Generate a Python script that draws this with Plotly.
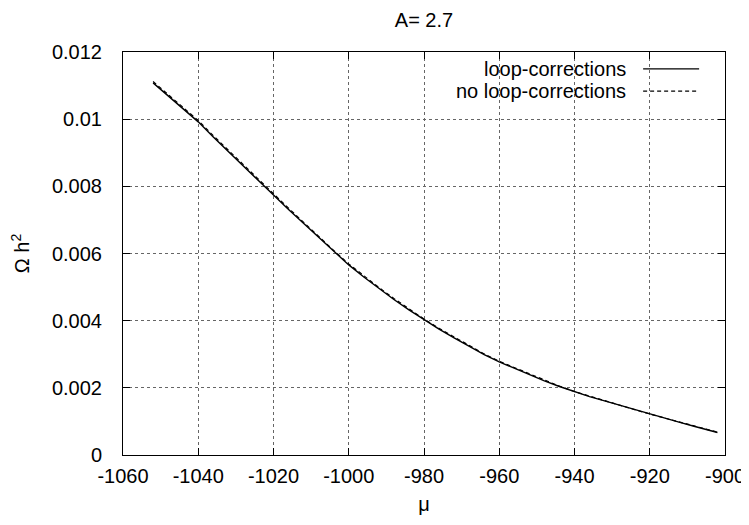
import plotly.graph_objects as go

# values
mu = [-1052, -1048, -1044, -1040, -1036, -1032, -1028, -1024, -1020, -1016,
      -1012, -1008, -1004, -1000, -996, -992, -988, -984, -980, -976,
      -972, -968, -964, -960, -956, -952, -948, -944, -940, -936,
      -932, -928, -924, -920, -916, -912, -908, -904, -902]

omega_loop = [0.01108, 0.01070, 0.01031, 0.00992, 0.00947, 0.00903, 0.00860, 0.00817, 0.00774, 0.00731,
              0.00689, 0.00647, 0.00606, 0.00566, 0.00530, 0.00496, 0.00463, 0.00432, 0.00403, 0.00375,
              0.00349, 0.00324, 0.00299, 0.00277, 0.00258, 0.00239, 0.00221, 0.00204, 0.00188, 0.00174,
              0.00161, 0.00148, 0.00134, 0.00121, 0.00109, 0.00097, 0.00085, 0.00073, 0.00067]

omega_noloop = [0.01112, 0.01074, 0.01035, 0.00996, 0.00951, 0.00907, 0.00864, 0.00821, 0.00778, 0.00735,
                0.00692, 0.00650, 0.00609, 0.00569, 0.00533, 0.00499, 0.00466, 0.00435, 0.00405, 0.00377,
                0.00351, 0.00326, 0.00301, 0.00279, 0.00260, 0.00241, 0.00222, 0.00205, 0.00189, 0.00175,
                0.00162, 0.00149, 0.00135, 0.00122, 0.00110, 0.00098, 0.00086, 0.00074, 0.00068]

x_ticks = [-1060, -1040, -1020, -1000, -980, -960, -940, -920, -900]
x_labels = ["-1060", "-1040", "-1020", "-1000", "-980", "-960", "-940", "-920", "-900"]
y_ticks = [0, 0.002, 0.004, 0.006, 0.008, 0.01, 0.012]
y_labels = ["0", "0.002", "0.004", "0.006", "0.008", "0.01", "0.012"]

legend_names = ["loop-corrections", "no loop-corrections"]

font = "Liberation Sans, Arial, sans-serif"
fsize = 20

fig = go.Figure()
fig.add_trace(go.Scatter(x=mu, y=omega_noloop, mode="lines", name=legend_names[1],
                         line=dict(color="black", width=1.2, dash="4px,3px"), showlegend=False))
fig.add_trace(go.Scatter(x=mu, y=omega_loop, mode="lines", name=legend_names[0],
                         line=dict(color="black", width=1.4), showlegend=False))

axis_common = dict(showline=True, linecolor="black", linewidth=1, mirror="ticks",
                   ticks="inside", ticklen=7, tickcolor="black",
                   showgrid=True, gridcolor="#666", gridwidth=1, griddash="dot",
                   zeroline=False, automargin=False,
                   tickfont=dict(size=fsize, color="black", family=font))

fig.update_xaxes(range=[-1060, -900], tickvals=x_ticks, ticktext=x_labels,
                 ticklabelstandoff=3,
                 title=dict(text="μ", font=dict(size=fsize, color="black", family=font), standoff=10),
                 **axis_common)
fig.update_yaxes(range=[0, 0.012], tickvals=y_ticks, ticktext=y_labels,
                 ticklabelstandoff=16,
                 title=dict(text="Ω h<sup>2</sup>", font=dict(size=fsize, color="black", family=font), standoff=24),
                 **axis_common)

# gnuplot-style key: text right-aligned, line sample on the right
fig.add_shape(type="rect", xref="paper", yref="paper", x0=0.54, x1=0.975, y0=0.875, y1=0.99,
              fillcolor="white", line=dict(width=0), layer="between")
rows_y = [0.958, 0.903]
dashes = ["solid", "4px,3px"]
for name, yy, dsh in zip(legend_names, rows_y, dashes):
    fig.add_annotation(x=0.839, y=yy, xref="paper", yref="paper", text=name, showarrow=False,
                       xanchor="right", yanchor="middle",
                       font=dict(size=fsize, color="black", family=font))
    fig.add_shape(type="line", xref="paper", yref="paper", x0=0.864, x1=0.957, y0=yy, y1=yy,
                  line=dict(color="black", width=1.2, dash=dsh))

# the page puts the figure 8px in from the top-left corner
fig.update_layout(
    width=741, height=517,
    margin=dict(l=115, r=24, t=44, b=70),
    paper_bgcolor="white", plot_bgcolor="white",
    font=dict(family=font, size=fsize, color="black"),
    title=dict(text="A= 2.7", x=0.5, xref="paper", xanchor="center",
               y=1 - 12 / 517, yanchor="middle", font=dict(size=fsize, color="black", family=font)),
)

fig.write_html("out.html")
